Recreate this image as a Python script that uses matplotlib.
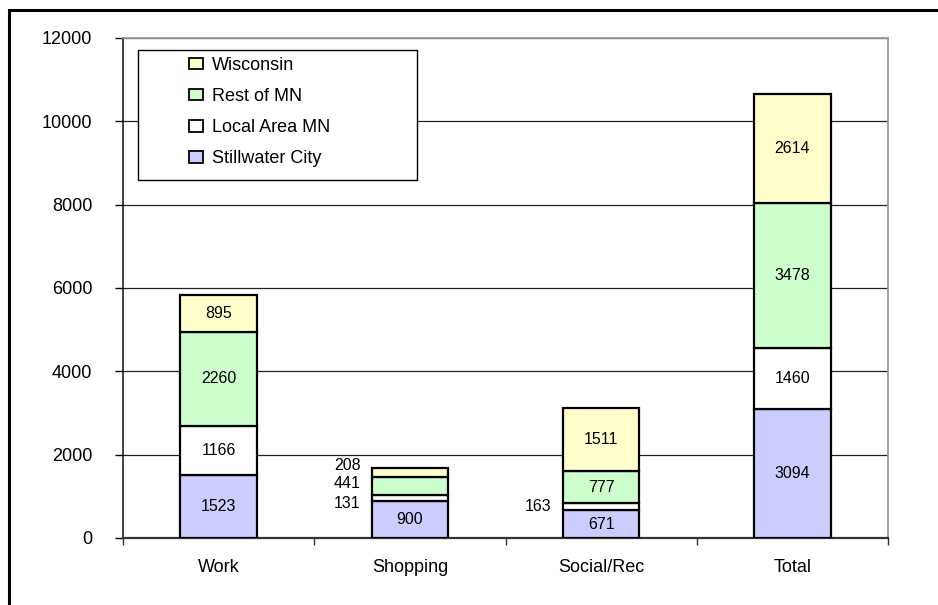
import matplotlib
matplotlib.use("Agg")
import matplotlib.pyplot as plt
from matplotlib.patches import Rectangle, Patch
import numpy as np

plt.rcParams['font.family'] = ['Liberation Sans', 'DejaVu Sans']

categories = ["Work", "Shopping", "Social/Rec", "Total"]
series_names = ["Stillwater City", "Local Area MN", "Rest of MN", "Wisconsin"]
stillwater = [1523, 900, 671, 3094]
local_mn = [1166, 131, 163, 1460]
rest_mn = [2260, 441, 777, 3478]
wisconsin = [895, 208, 1511, 2614]
y_ticks = [0, 2000, 4000, 6000, 8000, 10000, 12000]

colors = ["#CCCCFF", "#FFFFFF", "#CCFFCC", "#FFFFCC"]
values = [stillwater, local_mn, rest_mn, wisconsin]

W, H = 938, 605
fig = plt.figure(figsize=(W / 100, H / 100), dpi=100)
fig.patch.set_facecolor("white")

# outer frame
fig.patches.append(Rectangle((9 / W, -0.1), 2.0, (H - 10) / H + 0.1,
                             transform=fig.transFigure, fill=False,
                             edgecolor="black", linewidth=2.2, clip_on=False))

ax = fig.add_axes([123 / W, (H - 538) / H, (888 - 123) / W, (538 - 38) / H])
x = np.arange(len(categories))
bottom = np.zeros(len(categories))
bar_containers = []
for vals, col, name in zip(values, colors, series_names):
    bc = ax.bar(x, vals, width=0.4, bottom=bottom, color=col,
                edgecolor="black", linewidth=1.6, label=name, zorder=3)
    bar_containers.append((bc, np.array(vals), bottom.copy()))
    bottom = bottom + np.array(vals)

# labels
for si, (bc, vals, bot) in enumerate(bar_containers):
    for ci, (rect, v, b) in enumerate(zip(bc, vals, bot)):
        yc = b + v / 2
        if v < 500:
            # small segment: label to the left of bar
            dy = 0
            if categories[ci] == "Shopping":
                dy = {3: 5, 2: 2, 1: -4}.get(si, 0)
            ax.annotate(str(v), xy=(rect.get_x(), yc), xytext=(-8, dy),
                        textcoords="offset points", ha="right", va="center",
                        fontsize=11.5, zorder=5)
        else:
            ax.text(rect.get_x() + rect.get_width() / 2, yc, str(v),
                    ha="center", va="center", fontsize=11.5, zorder=5)

ax.set_xlim(-0.5, len(categories) - 0.5)
ax.set_ylim(0, 12000)
ax.set_yticks(y_ticks)
ax.set_yticklabels([str(t) for t in y_ticks], fontsize=13)
ax.set_xticks(x)
ax.set_xticklabels(categories, fontsize=13)
ax.set_xticks(np.arange(-0.5, len(categories)), minor=True)
ax.tick_params(axis="x", which="major", length=0, pad=15)
ax.tick_params(axis="x", which="minor", length=5, width=1.0, direction="out", color="#333333")
ax.tick_params(axis="y", length=6, width=1.0, direction="out", pad=16)

ax.yaxis.grid(True, color="#222222", linewidth=0.9, zorder=0)
ax.set_axisbelow(True)
for s in ["top", "right"]:
    ax.spines[s].set_color("#999999")
    ax.spines[s].set_linewidth(1.3)
ax.spines["left"].set_color("#111111")
ax.spines["left"].set_linewidth(1.1)
ax.spines["bottom"].set_color("#333333")
ax.spines["bottom"].set_linewidth(1.6)

# legend frame
fig.patches.append(Rectangle((138 / W, (H - 180) / H), (417 - 138) / W, (180 - 50) / H,
                             transform=fig.transFigure, facecolor="white",
                             edgecolor="black", linewidth=1.0, zorder=10))
handles = [Patch(facecolor=colors[i], edgecolor="black", linewidth=1.3,
                 label=series_names[i]) for i in [3, 2, 1, 0]]
leg = fig.legend(handles=handles, loc="upper left",
                 bbox_to_anchor=(189 / W, (H - 57) / H),
                 frameon=False, fontsize=13, borderpad=0, borderaxespad=0,
                 handlelength=0.8, handleheight=0.6, handletextpad=0.45,
                 labelspacing=0.78)
leg.set_zorder(11)

fig.savefig("out.png", dpi=100)
